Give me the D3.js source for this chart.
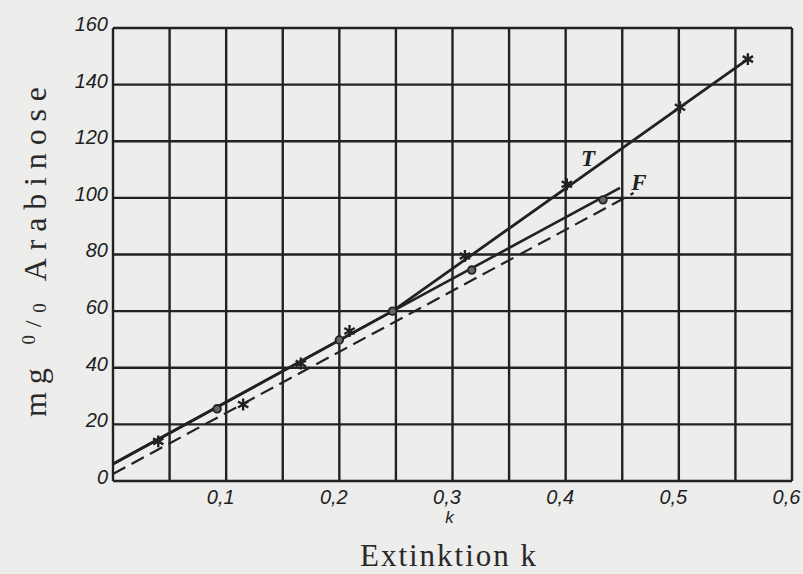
<!DOCTYPE html>
<html lang="de">
	<head>
		<meta charset="utf-8">
		<title>Extinktion k / mg % Arabinose</title>
		<script src="https://cdn.jsdelivr.net/npm/d3@7"></script>
		<style type="text/css">
			body { margin: 0; background: #ededeb; }
			svg { display: block; }
			.tick text { font-family: "Liberation Sans", sans-serif; font-style: italic; fill: #1e1e1e; }
			.domain { display: none; }
		</style>
	</head>
	<body>
		<script type="text/javascript">

			//Width and height
			var w = 803;
			var h = 574;

			//Axis ticks
			var xTicks = [0.1, 0.2, 0.3, 0.4, 0.5, 0.6];
			var xTickLabels = ["0,1", "0,2", "0,3", "0,4", "0,5", "0,6"];
			var yTicks = [0, 20, 40, 60, 80, 100, 120, 140, 160];
			var xGrid = [0, 0.05, 0.1, 0.15, 0.2, 0.25, 0.3, 0.35, 0.4, 0.45, 0.5, 0.55, 0.6];

			//Curve T (solid, stars)
			var tLineK = [0, 0.247, 0.561];
			var tLineV = [6, 60, 149];
			//Curve F (solid, circles)
			var fLineK = [0, 0.247, 0.448];
			var fLineV = [6, 60, 103.5];
			//Dashed line
			var dLineK = [0, 0.46];
			var dLineV = [2.5, 101.7];

			//Measured points
			var starK = [0.04, 0.115, 0.166, 0.209, 0.311, 0.401, 0.501, 0.561];
			var starV = [14, 27, 41.5, 53, 79.5, 104.8, 132, 149];
			var circK = [0.092, 0.2, 0.247, 0.317, 0.433];
			var circV = [25.5, 49.8, 60, 74.5, 99.3];

			var ink = "#222";

			var x = d3.scaleLinear().domain([0, 0.6]).range([113, 792]);
			var y = d3.scaleLinear().domain([0, 160]).range([481, 28]);

			var svg = d3.select("body")
						.append("svg")
						.attr("width", w)
						.attr("height", h);

			//Grid
			svg.append("g")
				.selectAll("line")
				.data(xGrid)
				.enter()
				.append("line")
				.attr("x1", function(d) { return x(d); })
				.attr("x2", function(d) { return x(d); })
				.attr("y1", y(0))
				.attr("y2", y(160))
				.attr("stroke", ink)
				.attr("stroke-width", 2.4);

			svg.append("g")
				.selectAll("line")
				.data(yTicks)
				.enter()
				.append("line")
				.attr("x1", x(0))
				.attr("x2", x(0.6))
				.attr("y1", function(d) { return y(d); })
				.attr("y2", function(d) { return y(d); })
				.attr("stroke", ink)
				.attr("stroke-width", 2.4);

			//Axes (labels only)
			var yAxis = svg.append("g")
				.attr("transform", "translate(" + (x(0) - 5) + ",-4)")
				.call(d3.axisLeft(y).tickValues(yTicks).tickSize(0).tickPadding(0));
			yAxis.selectAll("text").style("font-size", "20px");

			var xAxis = svg.append("g")
				.attr("transform", "translate(-6," + (y(0) + 9) + ")")
				.call(d3.axisBottom(x).tickValues(xTicks).tickSize(0).tickPadding(0)
					.tickFormat(function(d, i) { return xTickLabels[i]; }));
			xAxis.selectAll("text").style("font-size", "20px");

			//Lines
			var line = d3.line()
				.x(function(d) { return x(d[0]); })
				.y(function(d) { return y(d[1]); });

			function pairs(ks, vs) {
				return ks.map(function(k, i) { return [k, vs[i]]; });
			}

			svg.append("path")
				.datum(pairs(tLineK, tLineV))
				.attr("d", line)
				.attr("fill", "none")
				.attr("stroke", ink)
				.attr("stroke-width", 2.8);

			svg.append("path")
				.datum(pairs(fLineK, fLineV))
				.attr("d", line)
				.attr("fill", "none")
				.attr("stroke", ink)
				.attr("stroke-width", 2.6);

			svg.append("path")
				.datum(pairs(dLineK, dLineV))
				.attr("d", line)
				.attr("fill", "none")
				.attr("stroke", ink)
				.attr("stroke-width", 2.2)
				.attr("stroke-dasharray", "14,7");

			//Markers
			var star = d3.symbol().type(d3.symbolAsterisk).size(100);
			svg.append("g")
				.selectAll("path")
				.data(pairs(starK, starV))
				.enter()
				.append("path")
				.attr("d", star)
				.attr("transform", function(d) { return "translate(" + x(d[0]) + "," + y(d[1]) + ")"; })
				.attr("fill", "none")
				.attr("stroke", ink)
				.attr("stroke-width", 2.4);

			svg.append("g")
				.selectAll("circle")
				.data(pairs(circK, circV))
				.enter()
				.append("circle")
				.attr("cx", function(d) { return x(d[0]); })
				.attr("cy", function(d) { return y(d[1]); })
				.attr("r", 3.8)
				.attr("fill", "#666")
				.attr("stroke", ink)
				.attr("stroke-width", 1.8);

			//Curve labels
			svg.append("text")
				.text("T")
				.attr("x", 588)
				.attr("y", 166)
				.attr("text-anchor", "middle")
				.attr("font-family", "Liberation Serif, serif")
				.attr("font-style", "italic")
				.attr("font-weight", "bold")
				.attr("font-size", "23px")
				.attr("fill", ink);

			svg.append("text")
				.text("F")
				.attr("x", 639)
				.attr("y", 190)
				.attr("text-anchor", "middle")
				.attr("font-family", "Liberation Serif, serif")
				.attr("font-style", "italic")
				.attr("font-weight", "bold")
				.attr("font-size", "23px")
				.attr("fill", ink);

			//Small k under 0,3
			svg.append("text")
				.text("k")
				.attr("x", x(0.3) - 3)
				.attr("y", 523)
				.attr("text-anchor", "middle")
				.attr("font-family", "Liberation Sans, sans-serif")
				.attr("font-style", "italic")
				.attr("font-size", "17px")
				.attr("fill", ink);

			//Axis titles
			svg.append("text")
				.text("Extinktion k")
				.attr("x", 448)
				.attr("y", 566)
				.attr("text-anchor", "middle")
				.attr("textLength", 176)
				.attr("lengthAdjust", "spacing")
				.attr("font-family", "Liberation Serif, serif")
				.attr("font-size", "31px")
				.attr("fill", "#2a2a2a");

			var yTitle = svg.append("text")
				.attr("transform", "translate(46,252) rotate(-90)")
				.attr("text-anchor", "middle")
				.attr("textLength", 330)
				.attr("lengthAdjust", "spacing")
				.attr("font-family", "Liberation Serif, serif")
				.attr("font-size", "32px")
				.attr("fill", "#2a2a2a");
			yTitle.append("tspan").text("mg ");
			yTitle.append("tspan").text("0").attr("dy", -11).attr("font-size", "19px");
			yTitle.append("tspan").text("/").attr("dy", 6).attr("font-size", "24px");
			yTitle.append("tspan").text("0").attr("dy", 5).attr("font-size", "19px");
			yTitle.append("tspan").text(" Arabinose").attr("dy", 0);

		</script>
	</body>
</html>
